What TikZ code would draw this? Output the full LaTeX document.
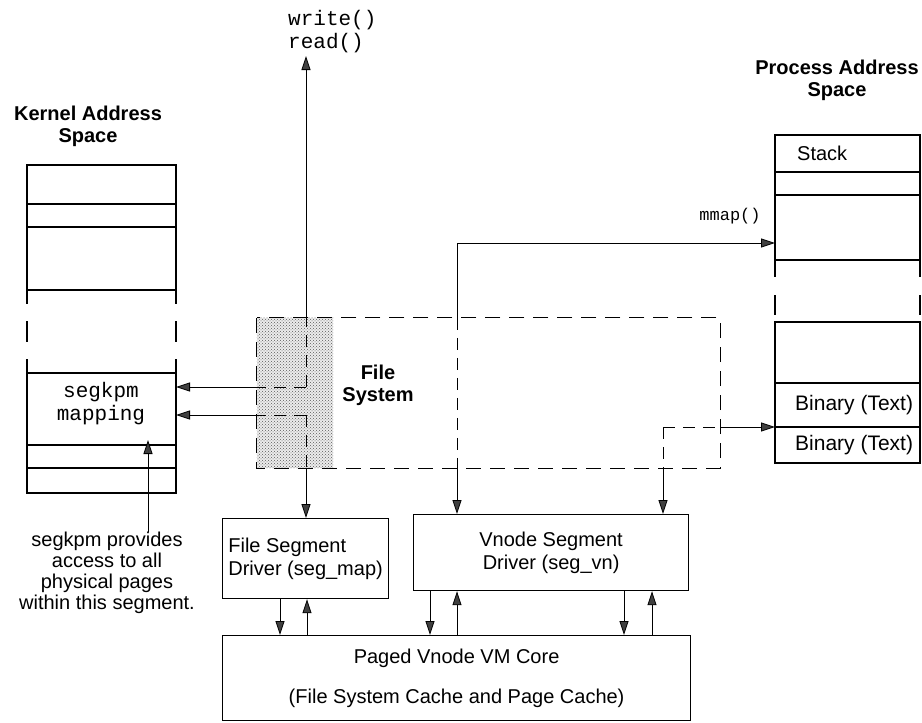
\documentclass[tikz,border=0pt]{standalone}
\usepackage{fontspec}
\setmainfont{Liberation Sans}
\setmonofont{Liberation Mono}
\usetikzlibrary{arrows.meta,positioning,patterns}

\begin{document}
\begin{tikzpicture}[
    x=1pt, y=-1pt,
    txt/.style={font=\fontsize{20}{21}\selectfont, inner sep=0pt},
    heading/.style={font=\fontsize{20}{22}\selectfont\bfseries, align=center, inner sep=0pt},
    code/.style={font=\ttfamily\fontsize{21}{23}\selectfont, align=left, inner sep=0pt},
    comp/.style={draw, line width=1.2pt, font=\fontsize{20}{23}\selectfont, align=center, inner sep=0pt},
    boxline/.style={line width=1.2pt},
    kgap/.style={line width=1.2pt, dash pattern=on 14pt off 17pt on 21pt off 17pt on 14pt off 0pt},
    pgap/.style={line width=1.2pt, dash pattern=on 17pt off 18pt on 20pt off 7pt},
    fsline/.style={line width=1.2pt, dash pattern=on 15pt off 9pt},
    fsdash/.style={line width=0.8pt, dash pattern=on 12pt off 8pt},
    arrow/.style={-{Triangle[length=14pt,width=9pt,fill=black!75]}, line width=0.8pt}
]
\useasboundingbox (0,0) rectangle (922,723);

% kernel address space
\node[heading] (ktitle) at (88,126) {Kernel Address\\Space};
\draw[boxline] (27,165) rectangle (176,290);
\draw[boxline] (27,204) -- (176,204);
\draw[boxline] (27,227) -- (176,227);
\draw[kgap] (27,290) -- (27,373);
\draw[kgap] (176,290) -- (176,373);
\draw[boxline] (27,373) rectangle (176,493);
\draw[boxline] (27,445) -- (176,445);
\draw[boxline] (27,468) -- (176,468);
\node[code, align=center] (segkpm) at (101,404) {segkpm\\mapping};
\coordinate (kin1) at (176,387);
\coordinate (kin2) at (176,415);

% process address space
\node[heading] (ptitle) at (837,80) {Process Address\\Space};
\draw[boxline] (775,135) rectangle (920,260);
\draw[boxline] (775,172) -- (920,172);
\draw[boxline] (775,195) -- (920,195);
\draw[pgap] (775,260) -- (775,322);
\draw[pgap] (920,260) -- (920,322);
\draw[boxline] (775,322) rectangle (920,463);
\draw[boxline] (775,383) -- (920,383);
\draw[boxline] (775,427) -- (920,427);
\node[txt, anchor=west] (stack) at (797,153) {Stack};
\node[txt, anchor=west, font=\fontsize{21}{22}\selectfont] (bin1) at (795,405) {Binary (Text)};
\node[txt, anchor=west, font=\fontsize{21}{22}\selectfont] (bin2) at (795,445) {Binary (Text)};
\coordinate (pmm) at (775,243);
\coordinate (pbin) at (775,427);

% file system
\node[minimum width=463pt, minimum height=150pt, inner sep=0pt] (fs) at (488.5,393) {};
\fill[gray!15] (fs.north west) rectangle (333,468);
\fill[pattern=crosshatch dots, pattern color=black!65] (fs.north west) rectangle (333,468);
\draw[fsline] (fs.north west) rectangle (fs.south east);
\node[heading] (fslbl) at (378,385) {File\\System};

% segment drivers and vm core
\node[comp, minimum width=166pt, minimum height=80pt, anchor=north west, align=left] (fsd) at (222,518) {File Segment\\Driver (seg\_map)};
\node[comp, minimum width=275pt, minimum height=76pt, anchor=north west] (vnd) at (413,514) {Vnode Segment\\Driver (seg\_vn)};
\node[comp, minimum width=468pt, minimum height=85pt, anchor=north west] (core) at (222,635) {Paged Vnode VM Core\\[17pt](File System Cache and Page Cache)};

% labels
\node[code, anchor=north west] (rw) at (288,10) {write()\\read()};
\node[code, font=\ttfamily\fontsize{17}{19}\selectfont] (mmlbl) at (730,216) {mmap()};
\node[txt, align=center] (segnote) at (107,573) {segkpm provides\\access to all\\physical pages\\within this segment.};

% bend points
\coordinate (rwtip) at (306,56);
\coordinate (rwbend) at (306,387);
\coordinate (fsbend) at (306,415);
\coordinate (mmbend) at (457,243);
\coordinate (txbend) at (663,427);
\coordinate (segtip) at (148,440);

% read/write path
\draw[fsdash] (rwbend) -- (rwbend |- fs.north);
\draw[arrow] (rwbend |- fs.north) -- (rwtip);
\draw[fsdash] (rwbend) -- (rwbend -| fs.west);
\draw[arrow] (rwbend -| fs.west) -- (kin1);
\draw[fsdash] (fsbend) -- (fsbend |- fs.south);
\draw[arrow] (fsbend |- fs.south) -- (fsbend |- fsd.north);
\draw[fsdash] (fsbend) -- (fsbend -| fs.west);
\draw[arrow] (fsbend -| fs.west) -- (kin2);

% mmap path
\draw[arrow] (mmbend |- fs.north) -- (mmbend) -- (pmm);
\draw[fsdash] (mmbend |- fs.north) -- (mmbend |- fs.south);
\draw[arrow] (mmbend |- fs.south) -- (mmbend |- vnd.north);

% binary text path
\draw[fsdash] (txbend) -- (txbend -| fs.east);
\draw[arrow] (txbend -| fs.east) -- (pbin);
\draw[fsdash] (txbend) -- (txbend |- fs.south);
\draw[arrow] (txbend |- fs.south) -- (txbend |- vnd.north);

% segkpm note
\draw[arrow] (segnote.north -| segtip) -- (segtip);

% drivers to core
\coordinate (c1) at (280,0);
\coordinate (c2) at (307,0);
\coordinate (c3) at (430,0);
\coordinate (c4) at (457,0);
\coordinate (c5) at (624,0);
\coordinate (c6) at (652,0);
\draw[arrow] (fsd.south -| c1) -- (core.north -| c1);
\draw[arrow] (core.north -| c2) -- (fsd.south -| c2);
\draw[arrow] (vnd.south -| c3) -- (core.north -| c3);
\draw[arrow] (core.north -| c4) -- (vnd.south -| c4);
\draw[arrow] (vnd.south -| c5) -- (core.north -| c5);
\draw[arrow] (core.north -| c6) -- (vnd.south -| c6);

\end{tikzpicture}
\end{document}
